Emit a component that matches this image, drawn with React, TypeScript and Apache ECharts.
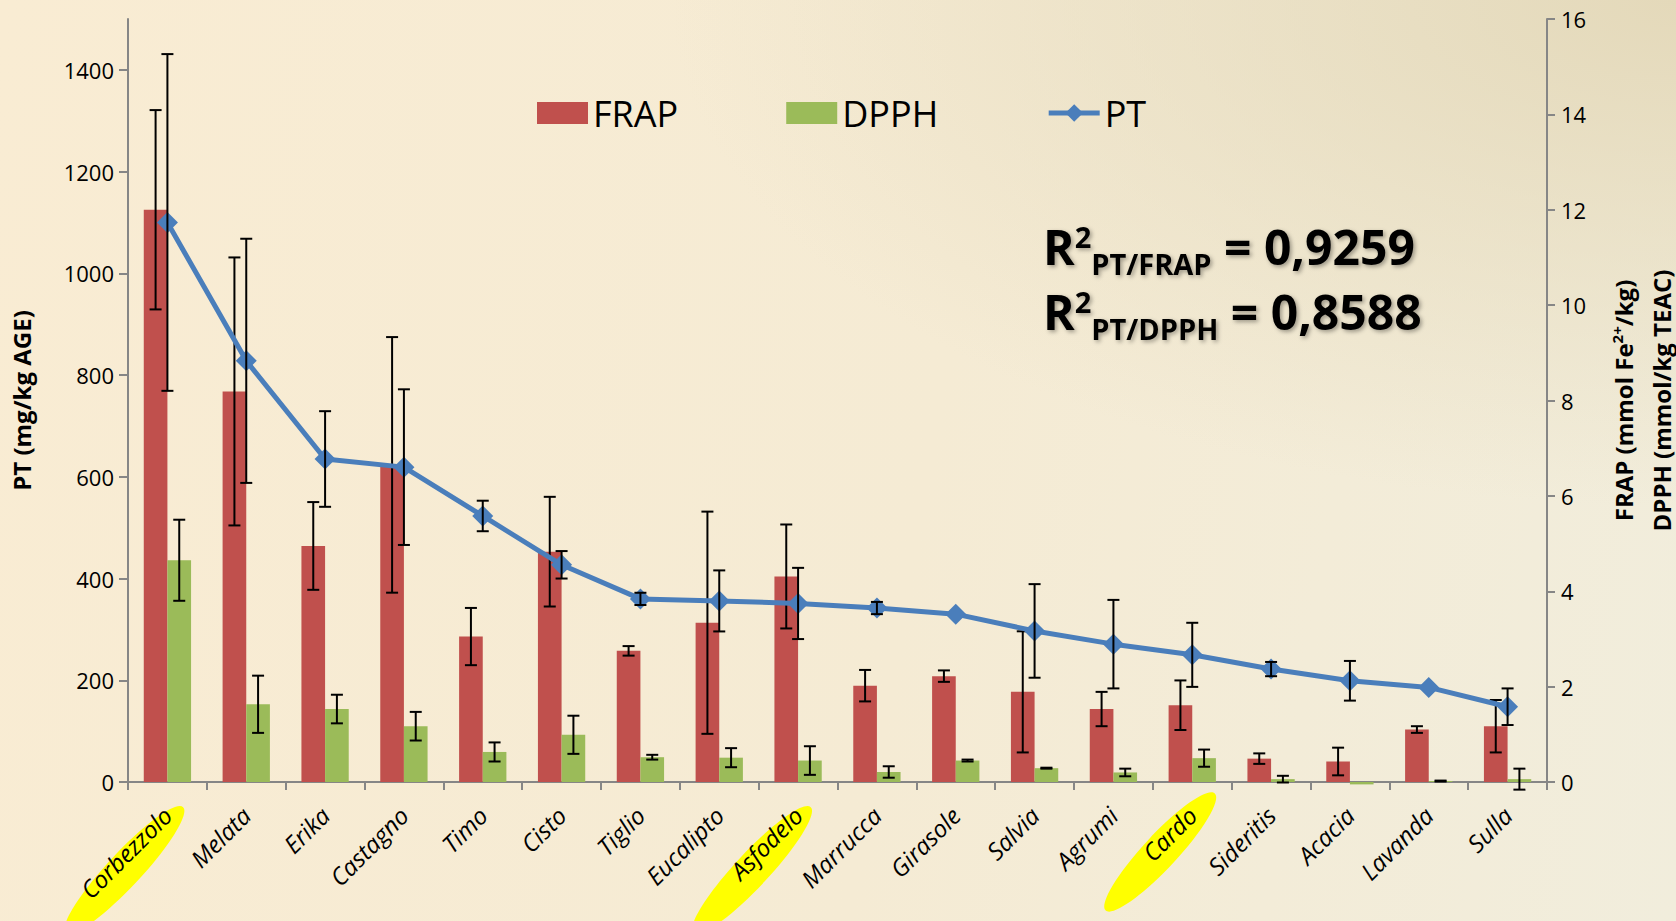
import React, { useEffect, useRef } from "react";
import * as echarts from "echarts";

const categories = ["Corbezzolo", "Melata", "Erika", "Castagno", "Timo", "Cisto", "Tiglio", "Eucalipto", "Asfodelo", "Marrucca", "Girasole", "Salvia", "Agrumi", "Cardo", "Sideritis", "Acacia", "Lavanda", "Sulla"];
const frap = [12.0, 8.19, 4.95, 6.65, 3.05, 4.83, 2.75, 3.34, 4.31, 2.02, 2.22, 1.89, 1.53, 1.61, 0.49, 0.43, 1.10, 1.17];
const frapErr = [2.09, 2.81, 0.92, 2.68, 0.6, 1.15, 0.1, 2.33, 1.09, 0.33, 0.12, 1.27, 0.36, 0.52, 0.11, 0.29, 0.07, 0.55];
const dpph = [4.65, 1.63, 1.53, 1.17, 0.63, 0.99, 0.52, 0.51, 0.45, 0.21, 0.45, 0.29, 0.2, 0.5, 0.06, -0.05, 0.02, 0.06];
const dpphErr = [0.85, 0.6, 0.3, 0.3, 0.2, 0.4, 0.05, 0.2, 0.3, 0.12, 0.02, 0.01, 0.08, 0.18, 0.07, 0, 0.01, 0.22];
const pt = [1100, 828, 635, 619, 523, 427, 360, 356, 351, 342, 330, 297, 271, 250, 222, 199, 186, 148];
const ptErr = [331, 240, 94, 153, 30, 27, 12, 60, 70, 12, 0, 92, 87, 63, 14, 39, 0, 36];
const highlighted = ["Corbezzolo", "Asfodelo", "Cardo"];
const r2Lines = [
  { sub: "PT/FRAP", value: "0,9259" },
  { sub: "PT/DPPH", value: "0,8588" },
];
const rightTitleLines = ["{a|FRAP (mmol Fe}{s|2+}{a|/kg)}", "{a|DPPH (mmol/kg TEAC)}"];

// layout for highlight ellipses relative to category position
const ellipseOffsets: Record<string, { dx: number; dy: number; rx: number }> = {
  Corbezzolo: { dx: -43, dy: 88, rx: 86 },
  Asfodelo: { dx: -46, dy: 88, rx: 86 },
  Cardo: { dx: -32, dy: 70, rx: 80 },
};

const FONT = "'Open Sans', 'Noto Sans', sans-serif";

function errorSeries(name: string, vals: number[], errs: number[], axis: number, offsetFrac: number, z: number) {
  return {
    name,
    type: "custom",
    yAxisIndex: axis,
    z,
    silent: true,
    data: vals.map((v, i) => [i, v, errs[i]]),
    encode: { x: 0, y: 1 },
    renderItem: (params: any, api: any) => {
      const idx = api.value(0);
      const v = api.value(1);
      const e = api.value(2);
      if (!e) return null;
      const c = api.coord([idx, v]);
      const band = api.size([1, 0])[0];
      const x = c[0] + offsetFrac * band;
      const top = api.coord([idx, v + e])[1];
      const bot = api.coord([idx, v - e])[1];
      const cap = 6;
      const st = { stroke: "#000", lineWidth: 2 };
      return {
        type: "group",
        children: [
          { type: "line", shape: { x1: x, y1: top, x2: x, y2: bot }, style: st },
          { type: "line", shape: { x1: x - cap, y1: top, x2: x + cap, y2: top }, style: st },
          { type: "line", shape: { x1: x - cap, y1: bot, x2: x + cap, y2: bot }, style: st },
        ],
      };
    },
  };
}

export default function App() {
  const ref = useRef<HTMLDivElement>(null);
  useEffect(() => {
    if (!ref.current) return;
    const chart = echarts.init(ref.current, undefined, { renderer: "svg" });
    const r2Graphics = r2Lines.map((l, i) => ({
      type: "text",
      x: 1043,
      y: 246 + i * 65,
      z: 10,
      style: {
        text: `{r|R}{sup|2}{sub|${l.sub}}{r| = ${l.value}}`,
        verticalAlign: "middle",
        align: "left",
        textShadowColor: "rgba(0,0,0,0.35)",
        textShadowBlur: 4,
        textShadowOffsetX: 2,
        textShadowOffsetY: 2,
        rich: {
          r: { fontSize: 48, fontWeight: "bold", fontFamily: FONT, fill: "#000" },
          sup: { fontSize: 29, fontWeight: "bold", fontFamily: FONT, fill: "#000", padding: [0, 0, 20, 0] },
          sub: { fontSize: 29, fontWeight: "bold", fontFamily: FONT, fill: "#000", padding: [35, 0, 0, 0] },
        },
      },
    }));
    const option: any = {
      animation: false,
      backgroundColor: "transparent",
      grid: { left: 128, right: 129, top: 19, bottom: 139, containLabel: false },
      legend: {
        left: 532,
        top: 90,
        itemWidth: 51,
        itemHeight: 22,
        itemGap: 108,
        textStyle: { fontSize: 36, fontFamily: FONT, color: "#000" },
        data: [
          { name: "FRAP", icon: "rect" },
          { name: "DPPH", icon: "rect" },
          { name: "PT", lineStyle: { width: 5 } },
        ],
      },
      xAxis: {
        type: "category",
        data: categories,
        axisLine: { lineStyle: { color: "#868686", width: 2 } },
        axisTick: { show: true, length: 8, lineStyle: { color: "#868686", width: 2 } },
        axisLabel: {
          rotate: 45,
          margin: 29,
          fontSize: 24,
          fontStyle: "italic",
          fontFamily: FONT,
          color: "#000",
          interval: 0,
        },
      },
      yAxis: [
        {
          type: "value",
          min: 0,
          max: 1500,
          interval: 200,
          position: "left",
          name: "PT (mg/kg AGE)",
          nameLocation: "middle",
          nameRotate: 90,
          nameGap: 95,
          nameTextStyle: { fontSize: 24, fontWeight: "bold", fontFamily: FONT, color: "#000" },
          axisLine: { show: true, lineStyle: { color: "#868686", width: 2 } },
          axisTick: { show: true, length: 9, lineStyle: { color: "#868686", width: 2 } },
          axisLabel: {
            fontSize: 22,
            fontFamily: FONT,
            color: "#000",
            margin: 14,
            showMaxLabel: false,
            formatter: (v: number) => String(v),
          },
          splitLine: { show: false },
        },
        {
          type: "value",
          min: 0,
          max: 16,
          interval: 2,
          position: "right",
          axisLine: { show: true, lineStyle: { color: "#868686", width: 2 } },
          axisTick: { show: true, length: 8, lineStyle: { color: "#868686", width: 2 } },
          axisLabel: { fontSize: 22, fontFamily: FONT, color: "#000", margin: 14 },
          splitLine: { show: false },
        },
      ],
      series: [
        {
          name: "FRAP",
          type: "bar",
          yAxisIndex: 1,
          data: frap,
          barWidth: "30%",
          barGap: "0%",
          itemStyle: { color: "#C0504D" },
          z: 2,
        },
        {
          name: "DPPH",
          type: "bar",
          yAxisIndex: 1,
          data: dpph,
          barWidth: "30%",
          barGap: "0%",
          clip: false,
          itemStyle: { color: "#9BBB59" },
          z: 2,
        },
        errorSeries("FRAP err", frap, frapErr, 1, -0.15, 3),
        errorSeries("DPPH err", dpph, dpphErr, 1, 0.15, 3),
        {
          name: "PT",
          type: "line",
          yAxisIndex: 0,
          data: pt,
          symbol: "diamond",
          symbolSize: 21,
          lineStyle: { color: "#4A7EBB", width: 5 },
          itemStyle: { color: "#4A7EBB" },
          z: 4,
        },
        errorSeries("PT err", pt, ptErr, 0, 0, 5),
      ],
      graphic: r2Graphics,
    };
    chart.setOption(option);

    const axisY0 = chart.convertToPixel({ yAxisIndex: 1 }, 0) as number;
    const axisYTop = chart.convertToPixel({ yAxisIndex: 1 }, 16) as number;
    const midY = (axisY0 + axisYTop) / 2;

    const ellipses = highlighted.map((name) => {
      const px = chart.convertToPixel({ xAxisIndex: 0 }, name) as number;
      const off = ellipseOffsets[name];
      return {
        type: "ellipse",
        x: px + off.dx,
        y: axisY0 + off.dy,
        rotation: (47 * Math.PI) / 180,
        z: -1,
        silent: true,
        shape: { cx: 0, cy: 0, rx: off.rx, ry: 17 },
        style: { fill: "#FFFF00" },
      };
    });

    const rightTitles = rightTitleLines.map((t, i) => ({
      type: "text",
      x: 1623 + i * 38,
      y: midY,
      rotation: Math.PI / 2,
      z: 10,
      style: {
        text: t,
        align: "center",
        verticalAlign: "middle",
        rich: {
          a: { fontSize: 24, fontWeight: "bold", fontFamily: FONT, fill: "#000" },
          s: { fontSize: 15, fontWeight: "bold", fontFamily: FONT, fill: "#000", padding: [0, 0, 12, 0] },
        },
      },
    }));

    chart.setOption({ graphic: [...r2Graphics, ...ellipses, ...rightTitles] });

    return () => chart.dispose();
  }, []);

  return (
    <div
      style={{
        position: "fixed",
        left: 0,
        top: 0,
        width: 1676,
        height: 921,
        background:
          "radial-gradient(ellipse 60% 55% at 100% 0%, rgba(228,217,186,1) 0%, rgba(228,217,186,0) 100%), linear-gradient(100deg, #F9ECD3 0%, #F5EBD4 55%, #F1EDDC 100%)",
      }}
    >
      <div ref={ref} style={{ width: 1676, height: 921 }} />
    </div>
  );
}
